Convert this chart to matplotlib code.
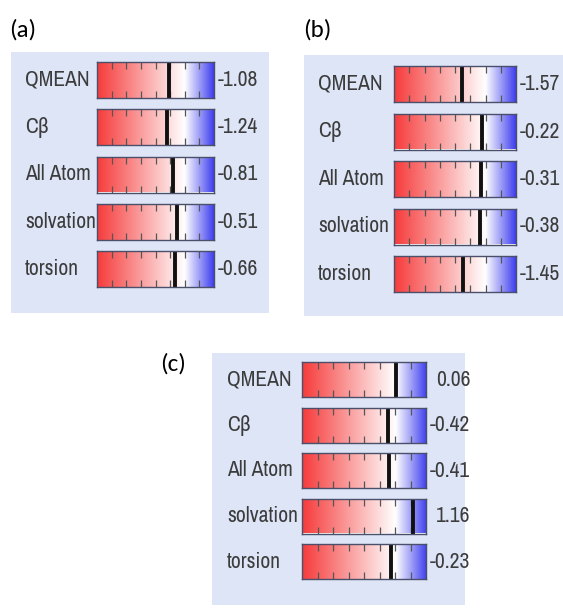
"""
QMEAN score bars for three models, (a) (b) (c).
"""
import matplotlib.pyplot as plt
import numpy as np
from matplotlib.colors import LinearSegmentedColormap
from matplotlib.patches import Rectangle

# data
terms = ['QMEAN', 'Cβ', 'All Atom', 'solvation', 'torsion']
scores_a = [-1.08, -1.24, -0.81, -0.51, -0.66]
scores_b = [-1.57, -0.22, -0.31, -0.38, -1.45]
scores_c = [0.06, -0.42, -0.41, 1.16, -0.23]
scale_min, scale_max = -6, 2
scale_ticks = [-5, -4, -3, -2, -1, 0, 1]

W, H = 563, 608
fig = plt.figure(figsize=(W / 100, H / 100), dpi=100)

label_font = ['Archivo Narrow', 'Roboto Condensed', 'DejaVu Sans']
text_col = '#3c3c3c'
bg_col = '#dde5f6'

cmap = LinearSegmentedColormap.from_list(
    'qmean', [(0.0, '#f63b3b'), (0.75, '#ffffff'), (1.0, '#3f3fef')])
grad = np.linspace(scale_min, scale_max, 256).reshape(1, -1)


def px(x, y, w, h):
    """pixel box (top-left origin) -> figure fraction rect"""
    return [x / W, 1 - (y + h) / H, w / W, h / H]


def draw_panel(scores, tag, tag_xy, bg, bar_x, bar_w, top0, top4, bar_h, name_x):
    fig.patches.append(Rectangle((bg[0] / W, 1 - (bg[1] + bg[3]) / H), bg[2] / W, bg[3] / H,
                                 transform=fig.transFigure, facecolor=bg_col,
                                 edgecolor='none', zorder=-5))
    fig.text(tag_xy[0] / W, 1 - tag_xy[1] / H, tag, fontsize=18, family='Carlito',
             ha='left', va='center', color='black')
    tops = np.linspace(top0, top4, len(scores))
    for name, val, top in zip(terms, scores, tops):
        ax = fig.add_axes(px(bar_x, top, bar_w, bar_h), zorder=2)
        ax.imshow(grad, cmap=cmap, extent=[scale_min, scale_max, 0, 1],
                  aspect='auto', vmin=scale_min, vmax=scale_max)
        ax.axvline(val, color='#111111', linewidth=2.8)
        ax.set_xlim(scale_min, scale_max)
        ax.set_ylim(0, 1)
        ax.set_xticks(scale_ticks)
        ax.set_xticklabels([])
        ax.set_yticks([])
        ax.tick_params(axis='x', direction='in', top=True, bottom=True,
                       length=5, width=0.9, color='#555555')
        for sp in ax.spines.values():
            sp.set_color('#4a4f6a')
            sp.set_linewidth(1.0)
        fig.text(name_x / W, 1 - (top + bar_h / 2) / H, name, fontsize=15.5,
                 family=label_font, color=text_col, ha='left', va='center')
        ax.annotate(f'{val:.2f}', xy=(1, 0.5), xycoords='axes fraction',
                    xytext=(32, 0), textcoords='offset points', ha='right',
                    va='center', fontsize=15.5, family=label_font, color=text_col)


draw_panel(scores_a, '(a)', (9, 30), (11, 52, 258, 261), 97, 117, 62, 251, 36, 25)
draw_panel(scores_b, '(b)', (303, 30), (304, 55, 259, 261), 394, 122, 66, 256, 36, 318)
draw_panel(scores_c, '(c)', (160, 364), (212, 353, 253, 252), 302, 124, 362, 544, 35, 227)

fig.savefig('out.png', dpi=100)
